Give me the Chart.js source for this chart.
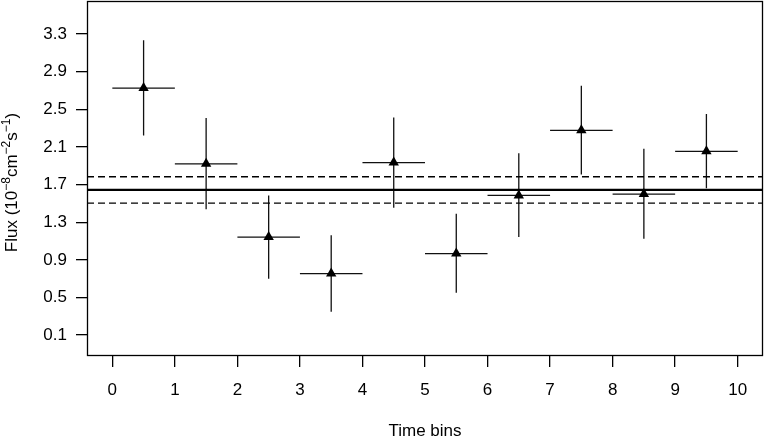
<!DOCTYPE html>
<html>
<head>
<meta charset="utf-8">
<script src="https://cdn.jsdelivr.net/npm/chart.js@4.4.1/dist/chart.umd.min.js"></script>
<style>
    body { margin: 0; background: #fff; }
    #wrap { width: 764px; height: 437px; }
</style>
</head>
<body>
<div id="wrap"><canvas id="fluxChart" width="764" height="437"></canvas></div>
<script>
// time bins (each bin is one unit wide)
const binStart = [0, 1, 2, 3, 4, 5, 6, 7, 8, 9];
const binEnd = [1, 2, 3, 4, 5, 6, 7, 8, 9, 10];
const binCenter = [0.5, 1.5, 2.5, 3.5, 4.5, 5.5, 6.5, 7.5, 8.5, 9.5];

// flux per bin, with lower / upper error limits
const flux = [2.725, 1.92, 1.142, 0.754, 1.933, 0.966, 1.584, 2.276, 1.598, 2.053];
const fluxLow = [2.22, 1.436, 0.70, 0.348, 1.454, 0.549, 1.142, 1.806, 1.125, 1.661];
const fluxHigh = [3.233, 2.407, 1.584, 1.16, 2.413, 1.39, 2.032, 2.749, 2.079, 2.45];

// average flux and its band
const meanFlux = 1.644;
const meanLow = 1.502;
const meanHigh = 1.782;

const xTicks = [0, 1, 2, 3, 4, 5, 6, 7, 8, 9, 10];
const yTicks = [0.1, 0.5, 0.9, 1.3, 1.7, 2.1, 2.5, 2.9, 3.3];
const xRange = [-0.405, 10.405];
const yRange = [-0.122, 3.65];

const FONT = '"Liberation Sans", Arial, Helvetica, sans-serif';

const points = binCenter.map((x, i) => ({ x: x, y: flux[i] }));
const hLine = (v) => [{ x: xRange[0], y: v }, { x: xRange[1], y: v }];

// keep the axes from pushing the plot box in for their end labels
const noScalePadding = (scale) => {
    scale.paddingTop = 0;
    scale.paddingBottom = 0;
    scale.paddingLeft = 0;
    scale.paddingRight = 0;
};

// error bars, frame and the axis titles
const fluxDecor = {
    id: 'fluxDecor',
    beforeDatasetsDraw(chart) {
        const { ctx, scales: { x, y } } = chart;
        ctx.save();
        ctx.strokeStyle = '#111';
        ctx.lineWidth = 1.3;
        for (let i = 0; i < flux.length; i++) {
            const cx = x.getPixelForValue(binCenter[i]);
            const cy = y.getPixelForValue(flux[i]);
            ctx.beginPath();
            ctx.moveTo(x.getPixelForValue(binStart[i]), cy);
            ctx.lineTo(x.getPixelForValue(binEnd[i]), cy);
            ctx.moveTo(cx, y.getPixelForValue(fluxLow[i]));
            ctx.lineTo(cx, y.getPixelForValue(fluxHigh[i]));
            ctx.stroke();
        }
        ctx.restore();
    },
    afterDraw(chart) {
        const { ctx, chartArea: a } = chart;
        ctx.save();
        ctx.strokeStyle = '#000';
        ctx.lineWidth = 1.3;
        ctx.strokeRect(a.left + 0.5, a.top + 0.5, a.right - a.left - 1, a.bottom - a.top - 1);

        ctx.fillStyle = '#000';
        ctx.textBaseline = 'alphabetic';

        // x title
        ctx.font = '17px ' + FONT;
        ctx.textAlign = 'center';
        ctx.fillText('Time bins', (a.left + a.right) / 2, 436);

        // y title with superscripts
        const parts = [
            ['Flux (10', false], ['\u22128', true], ['cm', false],
            ['\u22122', true], ['s', false], ['\u22121', true], [')', false]
        ];
        const setFont = (sup) => { ctx.font = (sup ? '12px ' : '17px ') + FONT; };
        let total = 0;
        parts.forEach(([t, sup]) => { setFont(sup); total += ctx.measureText(t).width; });
        ctx.translate(17, (a.top + a.bottom) / 2 + 4);
        ctx.rotate(-Math.PI / 2);
        ctx.textAlign = 'left';
        let pos = -total / 2;
        parts.forEach(([t, sup]) => {
            setFont(sup);
            ctx.fillText(t, pos, sup ? -7 : 0);
            pos += ctx.measureText(t).width;
        });
        ctx.restore();
    }
};

new Chart(document.getElementById('fluxChart').getContext('2d'), {
    type: 'scatter',
    data: {
        datasets: [
            {
                label: 'Flux',
                data: points,
                pointStyle: 'triangle',
                pointRadius: 6,
                pointBackgroundColor: '#000',
                pointBorderColor: '#000',
                pointBorderWidth: 0,
                order: 0
            },
            {
                label: 'Mean',
                data: hLine(meanFlux),
                showLine: true,
                borderColor: '#000',
                borderWidth: 2.2,
                pointRadius: 0,
                order: 1
            },
            {
                label: 'Mean high',
                data: hLine(meanHigh),
                showLine: true,
                borderColor: '#000',
                borderWidth: 1.4,
                borderDash: [7, 4],
                pointRadius: 0,
                order: 1
            },
            {
                label: 'Mean low',
                data: hLine(meanLow),
                showLine: true,
                borderColor: '#000',
                borderWidth: 1.4,
                borderDash: [7, 4],
                pointRadius: 0,
                order: 1
            }
        ]
    },
    options: {
        responsive: false,
        animation: false,
        layout: { autoPadding: false, padding: { top: 1, right: 1, left: 0, bottom: 0 } },
        plugins: {
            legend: { display: false },
            tooltip: { enabled: false }
        },
        scales: {
            x: {
                type: 'linear',
                min: xRange[0],
                max: xRange[1],
                afterBuildTicks: (scale) => { scale.ticks = xTicks.map(v => ({ value: v })); },
                afterFit: (scale) => { scale.height = 81; noScalePadding(scale); },
                border: { display: false },
                grid: { drawOnChartArea: false, color: '#000', tickLength: 11, lineWidth: 1.3 },
                ticks: {
                    color: '#000',
                    padding: 13,
                    font: { family: FONT, size: 17 },
                    callback: (v) => String(v)
                }
            },
            y: {
                type: 'linear',
                min: yRange[0],
                max: yRange[1],
                afterBuildTicks: (scale) => { scale.ticks = yTicks.map(v => ({ value: v })); },
                afterFit: (scale) => { scale.width = 87; noScalePadding(scale); },
                border: { display: false },
                grid: { drawOnChartArea: false, color: '#000', tickLength: 11, lineWidth: 1.3 },
                ticks: {
                    color: '#000',
                    padding: 9,
                    font: { family: FONT, size: 17 },
                    callback: (v) => v.toFixed(1)
                }
            }
        }
    },
    plugins: [fluxDecor]
});
</script>
</body>
</html>
